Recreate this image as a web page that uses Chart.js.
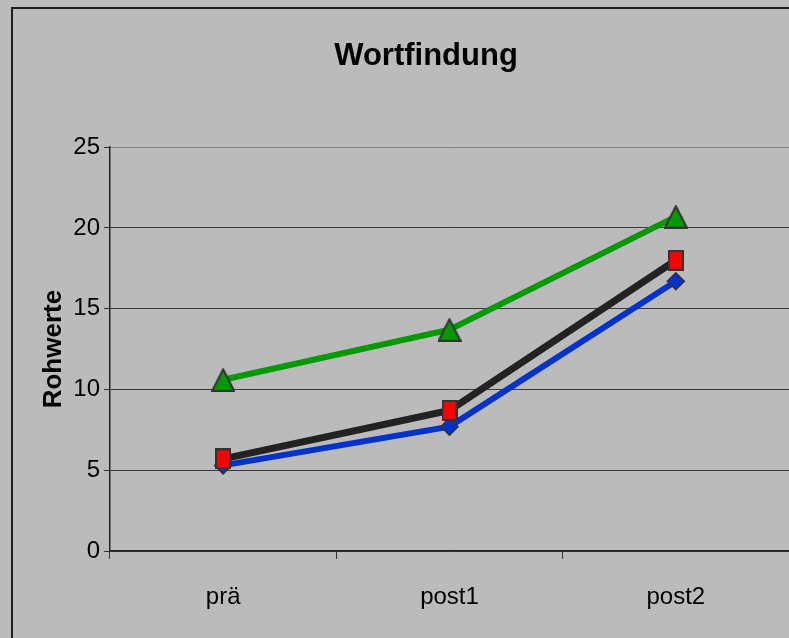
<!DOCTYPE html>
<html>
<head>
<meta charset="utf-8">
<script src="https://cdn.jsdelivr.net/npm/chart.js@4.4.0/dist/chart.umd.min.js"></script>
<style>
  html, body { margin: 0; padding: 0; background: #bbbbbb; overflow: hidden; }
  #wrap { width: 789px; height: 638px; overflow: hidden; }
</style>
</head>
<body>
<div id="wrap"><canvas id="chart" width="852" height="638"></canvas></div>
<script>
// values
var categories = ['prä', 'post1', 'post2'];
var blackValues = [5.7, 8.7, 18.0];
var blueValues = [5.3, 7.7, 16.7];
var greenValues = [10.6, 13.7, 20.7];
var yTicks = [0, 5, 10, 15, 20, 25];

var FONT = "'Liberation Sans', Arial, sans-serif";

// little canvases used as point markers
var makeMarker = function(kind, w, h, fill) {
    var c = document.createElement('canvas');
    c.width = w;
    c.height = h;
    var ctx = c.getContext('2d');
    ctx.fillStyle = fill;
    ctx.strokeStyle = '#333333';
    ctx.lineWidth = 2;
    ctx.beginPath();
    if (kind === 'rect') {
        ctx.rect(1, 1, w - 2, h - 2);
    } else {
        ctx.moveTo(w / 2, 1.5);
        ctx.lineTo(w - 1, h - 1);
        ctx.lineTo(1, h - 1);
        ctx.closePath();
    }
    ctx.fill();
    ctx.stroke();
    return c;
};

var redRect = makeMarker('rect', 16, 21, '#ff0000');
var greenTriangle = makeMarker('triangle', 24, 24, '#009900');

// grey page with the outer frame; the chart runs past the right edge
var framePlugin = {
    id: 'frame',
    afterLayout: function(chart) {
        // centre the title on the whole (wider) chart box, not on the plot
        var t = chart.titleBlock;
        if (t) {
            t.left = 0;
            t.right = chart.width;
            t.width = chart.width;
        }
    },
    beforeDraw: function(chart) {
        var ctx = chart.ctx;
        ctx.save();
        ctx.fillStyle = '#bbbbbb';
        ctx.fillRect(0, 0, chart.width, chart.height);
        ctx.strokeStyle = '#1e1e1e';
        ctx.lineWidth = 2;
        ctx.strokeRect(12, 8, chart.width + 40, chart.height + 40);
        ctx.restore();
    }
};

new Chart(document.getElementById('chart'), {
    type: 'line',
    data: {
        labels: categories,
        datasets: [
            {
                data: blackValues,
                borderColor: '#222222',
                borderWidth: 7,
                pointStyle: redRect,
                pointRadius: 10
            },
            {
                data: blueValues,
                borderColor: '#0033cc',
                borderWidth: 6,
                pointStyle: 'rectRot',
                pointRadius: 8.5,
                pointBackgroundColor: '#0033cc',
                pointBorderColor: '#333333',
                pointBorderWidth: 1.5
            },
            {
                data: greenValues,
                borderColor: '#009900',
                borderWidth: 6,
                pointStyle: greenTriangle,
                pointRadius: 12
            }
        ]
    },
    options: {
        responsive: false,
        animation: false,
        devicePixelRatio: 1,
        layout: { autoPadding: false, padding: { left: 0, top: 0, bottom: 0, right: 63 } },
        elements: { line: { tension: 0 } },
        plugins: {
            legend: { display: false },
            tooltip: { enabled: false },
            title: {
                display: true,
                text: 'Wortfindung',
                color: '#000000',
                font: { family: FONT, size: 31, weight: 'bold' },
                padding: { top: 38, bottom: 72 }
            }
        },
        scales: {
            x: {
                offset: true,
                grid: {
                    offset: true,
                    drawOnChartArea: false,
                    tickLength: 8,
                    color: '#333333'
                },
                border: { color: '#222222', width: 1.5 },
                ticks: {
                    color: '#000000',
                    padding: 24,
                    font: { family: FONT, size: 24 }
                },
                afterFit: function(scale) { scale.height = 87; }
            },
            y: {
                min: yTicks[0],
                max: yTicks[yTicks.length - 1],
                grid: {
                    color: function(ctx) {
                        return ctx.tick && ctx.tick.value === yTicks[yTicks.length - 1] ? '#808080' : '#3a3a3a';
                    },
                    tickColor: '#333333',
                    tickLength: 6
                },
                border: { color: '#222222', width: 1.5 },
                ticks: {
                    stepSize: yTicks[1] - yTicks[0],
                    color: '#000000',
                    padding: 4,
                    font: { family: FONT, size: 24 }
                },
                title: {
                    display: true,
                    text: 'Rohwerte',
                    color: '#000000',
                    font: { family: FONT, size: 26, weight: 'bold' },
                    padding: { top: 38 }
                },
                afterFit: function(scale) { scale.width = 110; }
            }
        }
    },
    plugins: [framePlugin]
});
</script>
</body>
</html>
